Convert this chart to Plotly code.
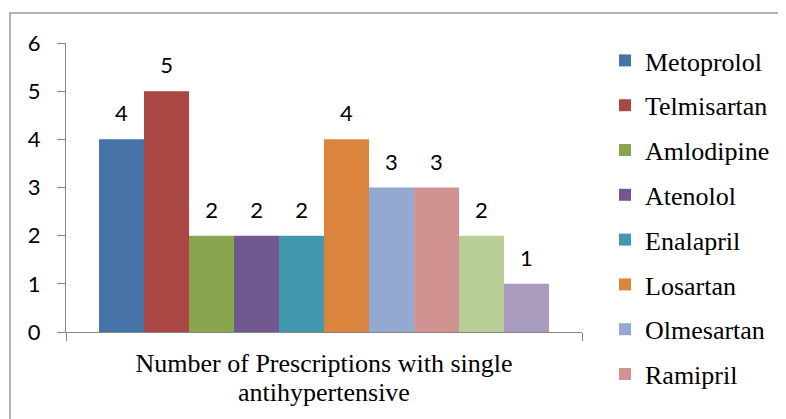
import plotly.graph_objects as go

category = ["Number of Prescriptions with single<br>antihypertensive"]
drugs = ["Metoprolol", "Telmisartan", "Amlodipine", "Atenolol", "Enalapril",
         "Losartan", "Olmesartan", "Ramipril", "Drug 9", "Drug 10"]
counts = [4, 5, 2, 2, 2, 4, 3, 3, 2, 1]
colors = ["#4572A7", "#AA4643", "#89A54E", "#71588F", "#4198AF",
          "#DB843D", "#93A9CF", "#D19392", "#B9CD96", "#A99BBD"]
legend_visible = [True] * 8 + [False] * 2
y_ticks = [0, 1, 2, 3, 4, 5, 6]

# the page body adds an 8px margin; compensate so the plot lands where the reference has it
OFF = 8
W, H = 786, 419
L, T = 66 - OFF, 43 - OFF
pw, ph = 516, 289
R, B = W - L - pw, H - T - ph

sans = "Lato, 'Open Sans', sans-serif"
serif = "'Liberation Serif', 'Times New Roman', serif"

def px_x(xw):
    return (xw - OFF - L) / pw

def px_y(yw):
    return (T + ph - (yw - OFF)) / ph

fig = go.Figure()
for name, v, c, show in zip(drugs, counts, colors, legend_visible):
    fig.add_trace(go.Bar(
        x=category, y=[v], name=name, marker=dict(color=c, line=dict(width=0)),
        text=[f"<span style='font-size:22px'>{v}</span><br>\u00a0"],
        textposition="outside", cliponaxis=False,
        textfont=dict(family=sans, size=10, color="black"),
        showlegend=show, legendgroup=name,
    ))

fig.update_layout(
    width=W, height=H,
    margin=dict(l=L, r=R, t=T, b=B, autoexpand=False),
    paper_bgcolor="white", plot_bgcolor="white",
    barmode="group", bargap=0.128, bargroupgap=0,
    showlegend=True,
    legend=dict(x=px_x(605), xanchor="left", y=px_y(37), yanchor="top",
                font=dict(family=serif, size=26, color="black"),
                traceorder="grouped", tracegroupgap=8, itemwidth=30,
                maxheight=400,
                bgcolor="rgba(0,0,0,0)"),
    xaxis=dict(type="category", showline=True, linecolor="#868686", linewidth=1,
               ticks="outside", tickson="boundaries", ticklen=8, tickcolor="#868686",
               tickfont=dict(family=serif, size=22, color="black"),
               ticktext=["<span style='font-size:26px'>Number of Prescriptions with single</span><br>"
                         "<span style='font-size:26px'>antihypertensive</span>"],
               tickvals=category, ticklabelstandoff=13,
               showgrid=False, zeroline=False, automargin=False),
    yaxis=dict(range=[0, 6], tickvals=y_ticks, showline=True, linecolor="#868686", linewidth=1,
               ticks="outside", ticklen=8, tickcolor="#868686",
               tickfont=dict(family=sans, size=22, color="black"),
               ticklabelstandoff=12, showgrid=False, zeroline=False, automargin=False),
    shapes=[dict(type="rect", xref="paper", yref="paper",
                 x0=px_x(10), x1=px_x(W + 30),
                 y0=px_y(H + 30), y1=px_y(13),
                 line=dict(color="#9a9a9a", width=1.5), fillcolor="rgba(0,0,0,0)", layer="below")],
)

fig.write_html("out.html")
